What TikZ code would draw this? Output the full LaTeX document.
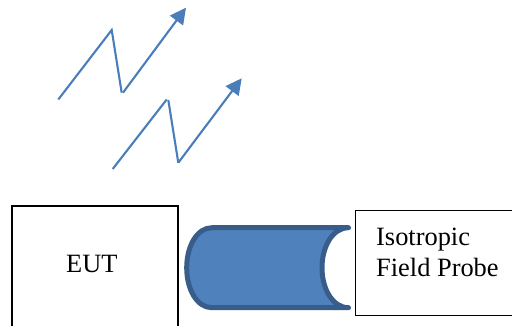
\documentclass[tikz,border=0pt]{standalone}
\usepackage{fontspec}
\setmainfont{Liberation Serif}
\usetikzlibrary{arrows.meta}
\definecolor{boltblue}{HTML}{4A7EBB}
\definecolor{canfill}{HTML}{4F81BD}
\definecolor{canline}{HTML}{385D8A}
\tikzset{
  x=1pt,y=-1pt,
  boxshape/.style={draw=black,line width=1.8pt,fill=white,rectangle,inner sep=0pt,anchor=north west},
  boltline/.style={draw=boltblue,line width=2.1pt,line join=miter,-{Triangle[length=16pt,width=16pt]}},
  canshape/.style={draw=canline,fill=canfill,line width=5pt,line cap=round,line join=round},
  labeltext/.style={font=\fontsize{26.4pt}{31pt}\selectfont,inner sep=0pt,anchor=base west,text=black}
}
\begin{document}
\begin{tikzpicture}
\useasboundingbox (0,0) rectangle (512,325);
\clip (0,0) rectangle (512,325);
\node[boxshape,minimum width=166pt,minimum height=130pt] (eut) at (11.3,205) {};
\node[boxshape,line width=1.4pt,minimum width=170pt,minimum height=105.5pt] (probe) at (355,209.5) {};
\node[labeltext] (eutlabel) at (66,272.5) {EUT};
\node[labeltext] (isolabel) at (376,245) {Isotropic};
\node[labeltext] (fieldlabel) at (376,276) {Field Probe};
% field-probe cylinder
\path[canshape] (348.5,227.7) -- (212,227.7)
  .. controls (197,227.7) and (186.7,246) .. (186.7,267.7)
  .. controls (186.7,289.5) and (197,307.7) .. (212,307.7)
  -- (348.5,307.7)
  .. controls (333,307.7) and (322,289.5) .. (322,267.7)
  .. controls (322,246) and (333,227.7) .. (348.5,227.7) -- cycle;
% bolts
\coordinate (aa) at (58.3,99.5);
\coordinate (ab) at (111.7,30);
\coordinate (ac) at (121.7,92.7);
\coordinate (ad) at (123,92.7);
\coordinate (ae) at (186,7.7);
\draw[boltline,-] (aa) -- (ab) -- (ac);
\draw[boltline] (ad) -- (ae);
\coordinate (ba) at (112.7,169);
\coordinate (bb) at (166.7,99.5);
\coordinate (bc) at (168.3,100);
\coordinate (bd) at (178.3,162.7);
\coordinate (be) at (241.7,78.3);
\draw[boltline,-] (ba) -- (bb);
\draw[boltline,-] (bc) -- (bd);
\draw[boltline] (bd) -- (be);
\end{tikzpicture}
\end{document}
